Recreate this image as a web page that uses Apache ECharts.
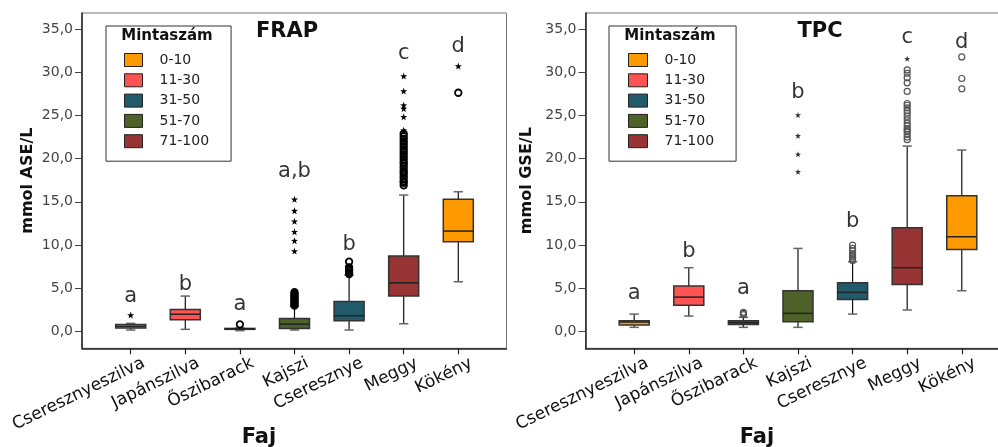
<!DOCTYPE html>
<html><head><meta charset="utf-8">
<script src="https://cdn.jsdelivr.net/npm/echarts@6/dist/echarts.min.js"></script>
<style>html,body{margin:0;padding:0;background:#fff}#c{width:998px;height:447px}</style>
</head><body><div id="c"></div>
<script>
// ---------- DATA ----------
const categories = ['Cseresznyeszilva', 'Japánszilva', 'Őszibarack', 'Kajszi', 'Cseresznye', 'Meggy', 'Kökény'];
const groupNames = ['0-10', '11-30', '31-50', '51-70', '71-100'];
const groupColors = ['#FF9900', '#FF5252', '#215A6B', '#4E6128', '#983434'];
const categoryGroup = [0, 1, 4, 3, 2, 4, 0];
const yTicks = [0, 5, 10, 15, 20, 25, 30, 35];

// FRAP boxes: [min, Q1, median, Q3, max] per category
const frapBox = [
  [0.12, 0.35, 0.55, 0.75, 0.89],
  [0.20, 1.30, 1.95, 2.50, 4.06],
  [0.05, 0.20, 0.25, 0.31, 0.40],
  [0.12, 0.31, 0.80, 1.47, 2.85],
  [0.12, 1.19, 1.78, 3.42, 6.50],
  [0.85, 4.06, 5.60, 8.70, 15.78],
  [5.72, 10.36, 11.60, 15.28, 16.16]
];
const frapCircles = [
  [2, 0.78],
  [3, 2.95], [3, 3.1], [3, 3.25], [3, 3.4], [3, 3.55], [3, 3.7], [3, 3.85], [3, 4.0], [3, 4.15], [3, 4.3], [3, 4.5],
  [4, 6.6], [4, 6.8], [4, 7.0], [4, 7.2], [4, 7.4], [4, 8.05],
  [5, 16.9], [5, 17.2], [5, 17.4], [5, 17.7], [5, 18.0], [5, 18.3], [5, 18.5], [5, 18.8], [5, 19.1], [5, 19.4],
  [5, 19.6], [5, 19.9], [5, 20.2], [5, 20.5], [5, 20.8], [5, 21.1], [5, 21.4], [5, 21.7], [5, 22.0], [5, 22.3],
  [5, 22.6], [5, 22.9],
  [6, 27.65]
];
const frapStars = [
  [0, 1.86],
  [3, 9.28], [3, 10.48], [3, 11.52], [3, 12.73], [3, 13.96], [3, 15.28],
  [5, 23.3], [5, 24.86], [5, 25.8], [5, 26.2], [5, 27.84], [5, 29.58],
  [6, 30.74]
];
const frapLetters = [[0, 4.0, 'a'], [1, 5.45, 'b'], [2, 3.1, 'a'], [3, 18.5, 'a,b'], [4, 10.05, 'b'], [5, 32.2, 'c'], [6, 33.06, 'd']];

// TPC boxes
const tpcBox = [
  [0.43, 0.70, 1.05, 1.20, 1.97],
  [1.74, 2.98, 3.94, 5.22, 7.35],
  [0.43, 0.75, 0.97, 1.20, 1.59],
  [0.43, 1.08, 2.05, 4.68, 9.59],
  [1.97, 3.67, 4.49, 5.61, 8.04],
  [2.44, 5.41, 7.35, 11.99, 21.46],
  [4.68, 9.47, 10.94, 15.70, 21.0]
];
const tpcCircles = [
  [2, 1.9], [2, 2.05], [2, 2.17],
  [4, 8.2], [4, 8.4], [4, 8.6], [4, 8.8], [4, 9.0], [4, 9.3], [4, 9.6], [4, 9.98],
  [5, 22.2], [5, 22.5], [5, 22.8], [5, 23.1], [5, 23.3], [5, 23.5], [5, 23.8], [5, 24.1], [5, 24.5], [5, 24.9],
  [5, 25.3], [5, 25.6], [5, 25.9], [5, 26.2], [5, 26.4], [5, 27.8], [5, 28.8], [5, 29.4], [5, 29.9], [5, 30.3],
  [6, 28.1], [6, 29.3], [6, 31.8]
];
const tpcStars = [[3, 18.48], [3, 20.5], [3, 22.66], [3, 25.06], [5, 31.6]];
const tpcLetters = [[0, 4.37, 'a'], [1, 9.2, 'b'], [2, 4.95, 'a'], [3, 27.7, 'b'], [4, 12.68, 'b'], [5, 34.1, 'c'], [6, 33.5, 'd']];

// ---------- CHART ----------
const FONT = 'DejaVu Sans';
const STAR = 'path://M0,-10 L2.35,-3.24 L9.51,-3.09 L3.8,1.24 L5.88,8.09 L0,4 L-5.88,8.09 L-3.8,1.24 L-9.51,-3.09 L-2.35,-3.24 Z';
const LABEL_SHIFT = 0.24;
const catIdx = categories.map((c, i) => i);

function renderBox(params, api) {
  const x = api.value(0);
  const p = [1, 2, 3, 4, 5].map(k => api.coord([x, api.value(k)]));
  const band = api.size([1, 0])[0];
  const bw = band * 0.55, cw = band * 0.17;
  const cx = p[0][0];
  const color = api.visual('color');
  return {
    type: 'group', children: [
      { type: 'line', shape: { x1: cx, y1: p[0][1], x2: cx, y2: p[1][1] }, style: { stroke: '#111', lineWidth: 1.2 } },
      { type: 'line', shape: { x1: cx, y1: p[3][1], x2: cx, y2: p[4][1] }, style: { stroke: '#111', lineWidth: 1.2 } },
      { type: 'line', shape: { x1: cx - cw / 2, y1: p[0][1], x2: cx + cw / 2, y2: p[0][1] }, style: { stroke: '#666', lineWidth: 1.5 } },
      { type: 'line', shape: { x1: cx - cw / 2, y1: p[4][1], x2: cx + cw / 2, y2: p[4][1] }, style: { stroke: '#666', lineWidth: 1.5 } },
      { type: 'rect', shape: { x: cx - bw / 2, y: p[3][1], width: bw, height: p[1][1] - p[3][1] }, style: { fill: color, stroke: '#333', lineWidth: 1.5 } },
      { type: 'line', shape: { x1: cx - bw / 2, y1: p[2][1], x2: cx + bw / 2, y2: p[2][1] }, style: { stroke: '#222', lineWidth: 1.5 } }
    ]
  };
}

function boxSeries(boxData, ai) {
  return groupNames.map((g, gi) => ({
    type: 'custom', name: g, xAxisIndex: ai, yAxisIndex: ai,
    itemStyle: { color: groupColors[gi], borderColor: '#222' },
    encode: { x: 0, y: [1, 2, 3, 4, 5] },
    renderItem: renderBox, silent: true, z: 2,
    data: catIdx.filter(i => categoryGroup[i] === gi).map(i => [i].concat(boxData[i]))
  }));
}

function pointSeries(circles, stars, letters, ai, right) {
  return [
    { type: 'scatter', name: 'circles' + ai, xAxisIndex: ai, yAxisIndex: ai, symbol: 'circle', symbolSize: right ? 6 : 6.5, silent: true, z: 5,
      itemStyle: { color: 'rgba(0,0,0,0)', borderColor: right ? '#555' : '#000', borderWidth: right ? 1.2 : 1.8, opacity: 1 }, data: circles },
    { type: 'scatter', name: 'stars' + ai, xAxisIndex: ai, yAxisIndex: ai, symbol: STAR, symbolSize: right ? 6 : 7, silent: true, z: 5,
      itemStyle: { color: right ? '#333' : '#000', opacity: 1 }, data: stars },
    { type: 'scatter', name: 'letters' + ai, xAxisIndex: ai, yAxisIndex: ai, symbolSize: 1, silent: true, z: 6,
      itemStyle: { color: 'rgba(0,0,0,0)' },
      label: { show: true, position: 'inside', formatter: '{b}', fontFamily: FONT, fontSize: 21, color: '#000' },
      data: letters.map(l => ({ value: [l[0], l[1]], name: l[2] })) }
  ];
}

function xAxis(gi) {
  return {
    type: 'value', gridIndex: gi, min: -0.892, max: 6.883,
    axisLine: { show: true, onZero: false, lineStyle: { color: '#222', width: 1.5 } },
    axisTick: { show: true, customValues: catIdx, length: 6, lineStyle: { color: '#222', width: 1.2 } },
    axisLabel: { customValues: catIdx.map(i => i + LABEL_SHIFT), formatter: v => categories[Math.round(v - LABEL_SHIFT)] || '',
      rotate: 26, margin: 14, fontFamily: FONT, fontSize: 17, color: '#111' },
    splitLine: { show: false }
  };
}
function yAxis(gi, name, gap) {
  return {
    type: 'value', gridIndex: gi, min: -2, max: 36.9,
    axisLine: { show: true, onZero: false, lineStyle: { color: '#222', width: 1.5 } },
    axisTick: { show: true, customValues: yTicks, length: 7, lineStyle: { color: '#444', width: 1 } },
    axisLabel: { customValues: yTicks, formatter: v => v.toFixed(1).replace('.', ','), margin: 9, fontFamily: FONT, fontSize: 14, color: '#444' },
    splitLine: { show: false },
    name: name, nameLocation: 'middle', nameGap: gap,
    nameTextStyle: { fontFamily: FONT, fontWeight: 'bold', fontSize: 16, color: '#111' }
  };
}
function legend(left, padLeft, iw) {
  return {
    left: left, top: 26, orient: 'vertical', data: groupNames, icon: 'rect', itemWidth: iw, itemHeight: 13, itemGap: 6.3,
    padding: [27, 22, 13, padLeft], borderColor: '#333', borderWidth: 1, selectedMode: false,
    textStyle: { fontFamily: FONT, fontSize: 14, color: '#222', padding: [0, 0, 0, 12] },
    itemStyle: { borderColor: '#222', borderWidth: 1 }
  };
}
const ttl = (text, left, top, size) => ({ text, left, top, textAlign: 'center', padding: 0,
  textStyle: { fontFamily: FONT, fontWeight: 'bold', fontSize: size, color: '#111' } });

const chart = echarts.init(document.getElementById('c'), null, { renderer: 'canvas' });
chart.setOption({
  animation: false,
  backgroundColor: '#fff',
  title: [
    ttl('FRAP', 287, 21, 21), ttl('TPC', 820, 21, 21),
    ttl('Mintaszám', 167, 29, 15), ttl('Mintaszám', 670, 29, 15),
    ttl('Faj', 259, 427, 21), ttl('Faj', 757, 427, 21)
  ],
  legend: [legend(106, 18, 18), legend(609, 19, 19)],
  grid: [
    { left: 82, top: 13, width: 424.5, height: 335.3, show: true, borderColor: '#777', borderWidth: 1, outerBoundsMode: 'none' },
    { left: 585.5, top: 13, width: 424.5, height: 335.3, show: true, borderColor: '#777', borderWidth: 1, outerBoundsMode: 'none' }
  ],
  xAxis: [xAxis(0), xAxis(1)],
  yAxis: [yAxis(0, 'mmol ASE/L', 46), yAxis(1, 'mmol GSE/L', 51)],
  series: [].concat(
    boxSeries(frapBox, 0), pointSeries(frapCircles, frapStars, frapLetters, 0, false),
    boxSeries(tpcBox, 1), pointSeries(tpcCircles, tpcStars, tpcLetters, 1, true)
  )
});
</script></body></html>
